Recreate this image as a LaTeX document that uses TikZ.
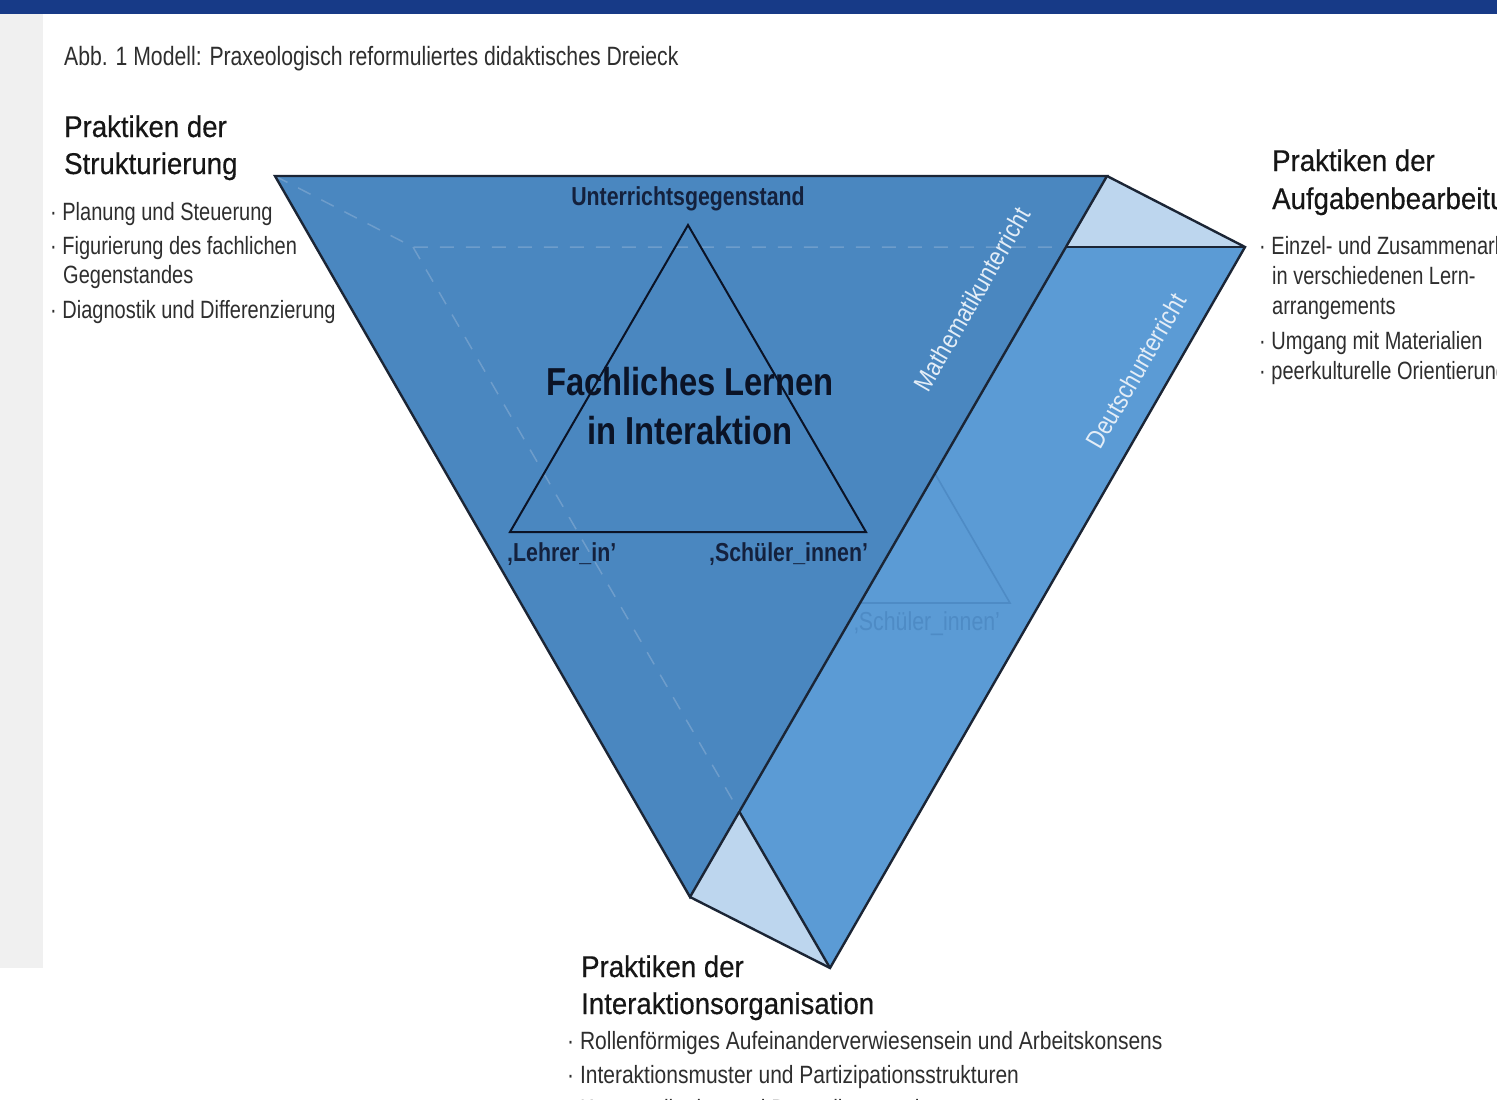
\documentclass[tikz,border=0pt]{standalone}
\usepackage{fontspec}
\setmainfont{Liberation Sans}
\newfontfamily\fc{Liberation Sans}[FakeStretch=0.80]
\newfontfamily\fcw{Liberation Sans}[FakeStretch=0.84]
\newfontfamily\fh{Liberation Sans}[FakeStretch=0.92, FakeBold=0.4]
\newfontfamily\fb{Liberation Sans}[FakeStretch=0.82]
\newfontfamily\fbig{Liberation Sans}[FakeStretch=0.84]
\newfontfamily\fr{Liberation Sans}[FakeStretch=0.85]
\definecolor{frontblue}{HTML}{4A87C0}
\definecolor{sideblue}{HTML}{5B9BD5}
\definecolor{paleblue}{HTML}{BDD6EE}
\definecolor{edgec}{HTML}{1B2535}
\definecolor{dashc}{HTML}{6E9DCB}
\definecolor{navy}{HTML}{14213D}
\definecolor{deepnavy}{HTML}{0B1326}
\definecolor{barblue}{HTML}{173A87}
\definecolor{panelgray}{HTML}{F0F0F0}
\definecolor{faintc}{HTML}{4E8BC5}
\definecolor{rotw}{HTML}{E3EDF7}
\definecolor{txtgray}{HTML}{2E2E2E}
\definecolor{headc}{HTML}{161616}
\tikzset{
  edgeline/.style={draw=edgec, line width=2.4pt, line join=miter},
  hiddenline/.style={draw=dashc, line width=1.5pt, dash pattern=on 14pt off 12pt},
  innerline/.style={draw=deepnavy, line width=2pt, line join=miter},
  bul/.style={anchor=base west, inner sep=0pt, text=txtgray, font=\fc\fontsize{25}{30}\selectfont},
  bulw/.style={bul, font=\fcw\fontsize{25}{30}\selectfont},
  head/.style={anchor=base west, inner sep=0pt, text=headc, font=\fh\fontsize{30}{36}\selectfont},
  lbl/.style={anchor=base west, inner sep=0pt, text=navy, font=\fb\bfseries\fontsize{26}{30}\selectfont},
  biglbl/.style={anchor=base, inner sep=0pt, text=deepnavy, font=\fbig\bfseries\fontsize{39}{46}\selectfont},
  rotlbl/.style={inner sep=0pt, text=rotw, font=\fr\fontsize{26}{30}\selectfont, rotate=60},
}
\begin{document}
\begin{tikzpicture}[x=1pt,y=-1pt]
\useasboundingbox (0,0) rectangle (1497,1100);
\clip (0,0) rectangle (1497,1100);
\fill[white] (0,0) rectangle (1497,1100);
\fill[barblue] (0,0) rectangle (1497,14);
\fill[panelgray] (0,14) rectangle (43,968);

% prism vertices
\coordinate (A) at (275,176);
\coordinate (B) at (1107,176);
\coordinate (C) at (690,897);
\coordinate (Ab) at (413,247);
\coordinate (Bb) at (1245,247);
\coordinate (Cb) at (830,968);
\coordinate (P) at (1066,247);
\coordinate (Q) at (739.5,812);
% inner triangle
\coordinate (T1) at (688,225);
\coordinate (T2) at (510,532);
\coordinate (T3) at (866,532);

% side face
\fill[sideblue] (P) -- (Bb) -- (Cb) -- (Q) -- cycle;
\begin{scope}
  \clip (P) -- (Bb) -- (Cb) -- (Q) -- cycle;
  \coordinate (F1) at (832,296);
  \coordinate (F2) at (654,603);
  \coordinate (F3) at (1010,603);
  \draw[faintc, line width=1.6pt] (F1) -- (F2) -- (F3) -- cycle;
  \node[lbl, text=faintc, font=\fb\fontsize{26}{30}\selectfont] (faintlbl) at (854,630) {‚Schüler\_innen’};
\end{scope}

% pale pieces
\fill[paleblue] (B) -- (Bb) -- (P) -- cycle;
\fill[paleblue] (C) -- (Cb) -- (Q) -- cycle;

% front triangle
\fill[frontblue] (A) -- (B) -- (C) -- cycle;

% hidden edges
\draw[hiddenline] (A) -- (Ab) -- (P);
\draw[hiddenline] (Ab) -- (Q);

% visible edges
\draw[edgeline] (A) -- (B) -- (C) -- cycle;
\draw[edgeline] (B) -- (Bb) -- (Cb) -- (C);
\draw[edgeline] (P) -- (Bb);
\draw[edgeline] (Q) -- (Cb);

% inner triangle
\draw[innerline] (T1) -- (T2) -- (T3) -- cycle;

% labels inside
\node[lbl, anchor=base] (gegenstand) at (688,205) {Unterrichtsgegenstand};
\node[biglbl] (fach1) at (690,395) {Fachliches Lernen};
\node[biglbl] (fach2) at (690,444) {in Interaktion};
\node[lbl] (lehrer) at (507,561) {‚Lehrer\_in’};
\node[lbl] (schueler) at (709,561) {‚Schüler\_innen’};
\node[rotlbl] (mathe) at (972,299) {Mathematikunterricht};
\node[rotlbl] (deutsch) at (1136,371) {Deutschunterricht};

% title
\node[anchor=base west, inner sep=0pt, text=txtgray, font=\fc\fontsize{26.5}{30}\selectfont] (title) at (64,65) {Abb. 1 Modell: Praxeologisch reformuliertes didaktisches Dreieck};

% left block
\node[head] (lh1) at (64,137) {Praktiken der};
\node[head] (lh2) at (64,174) {Strukturierung};
\node[bul] (lb1) at (50,220) {· Planung und Steuerung};
\node[bul] (lb2) at (50,254) {· Figurierung des fachlichen};
\node[bul] (lb2b) at (63,283) {Gegenstandes};
\node[bul] (lb3) at (50,318) {· Diagnostik und Differenzierung};

% right block
\node[head] (rh1) at (1272,171) {Praktiken der};
\node[head] (rh2) at (1272,209) {Aufgabenbearbeitung};
\node[bul] (rb1) at (1259,254) {· Einzel- und Zusammenarbeit};
\node[bul] (rb1b) at (1272,284) {in verschiedenen Lern-};
\node[bul] (rb1c) at (1272,314) {arrangements};
\node[bul] (rb2) at (1259,349) {· Umgang mit Materialien};
\node[bul] (rb3) at (1259,379) {· peerkulturelle Orientierung};

% bottom block
\node[head] (bh1) at (581,977) {Praktiken der};
\node[head] (bh2) at (581,1014) {Interaktionsorganisation};
\node[bulw] (bb1) at (567,1049) {· Rollenförmiges Aufeinanderverwiesensein und Arbeitskonsens};
\node[bulw] (bb2) at (567,1083) {· Interaktionsmuster und Partizipationsstrukturen};
\node[bulw] (bb3) at (567,1117) {· Kommunikation und Darstellungsweisen};
\end{tikzpicture}
\end{document}
